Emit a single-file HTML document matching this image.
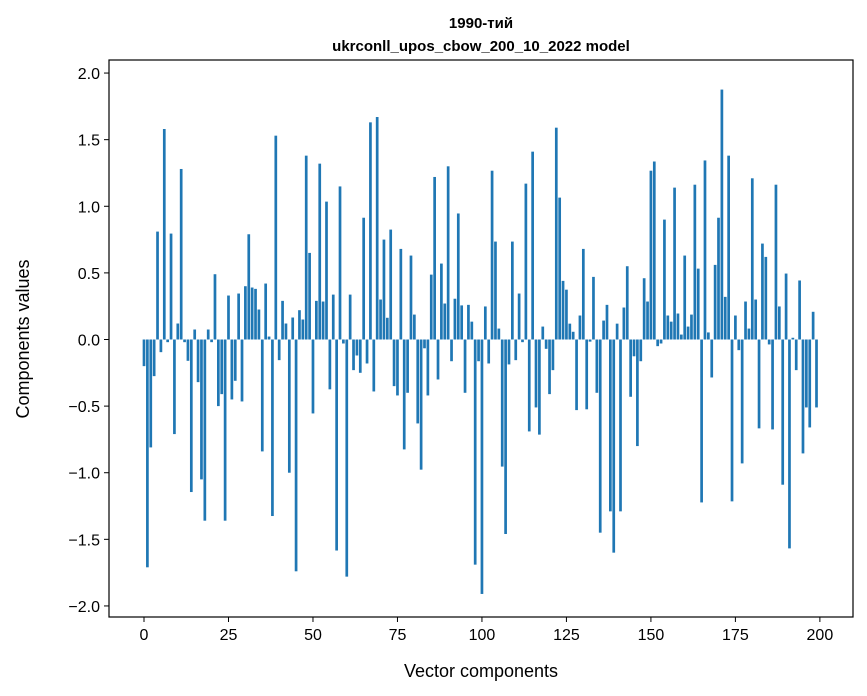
<!DOCTYPE html>
<html><head><meta charset="utf-8"><style>
body{margin:0;background:#fff;font-family:"Liberation Sans","DejaVu Sans",sans-serif}
svg{display:block}
</style></head><body>
<svg id="chart" width="867" height="696" viewBox="0 0 867 696" xmlns="http://www.w3.org/2000/svg">
<text x="481" y="28" text-anchor="middle" font-size="15" font-weight="bold" font-family="Liberation Sans, sans-serif">1990-тий</text>
<text x="481" y="51" text-anchor="middle" font-size="15" font-weight="bold" font-family="Liberation Sans, sans-serif">ukrconll_upos_cbow_200_10_2022 model</text>
<g id="bars"></g>
<g id="xticks"></g>
<g id="yticks"></g>
<rect x="109" y="60" width="744" height="557" fill="none" stroke="#000" stroke-width="1.2"/>
<text x="481" y="677" text-anchor="middle" font-size="18" font-family="Liberation Sans, sans-serif">Vector components</text>
<text transform="translate(29,339) rotate(-90)" text-anchor="middle" font-size="18" font-family="Liberation Sans, sans-serif">Components values</text>
</svg>
<script>
const values = [
-0.20,-1.71,-0.81,-0.275,0.81,-0.095,1.58,-0.02,0.795,-0.71,
0.12,1.28,-0.02,-0.16,-1.145,0.075,-0.32,-1.05,-1.36,0.075,
-0.02,0.49,-0.50,-0.41,-1.36,0.33,-0.45,-0.31,0.345,-0.465,
0.40,0.79,0.39,0.38,0.225,-0.84,0.42,0.022,-1.325,1.53,
-0.155,0.29,0.12,-1.0,0.165,-1.74,0.22,0.15,1.38,0.65,
-0.555,0.29,1.32,0.285,1.035,-0.374,0.337,-1.584,1.149,-0.03,
-1.78,0.337,-0.23,-0.12,-0.25,0.914,-0.18,1.63,-0.39,1.67,
0.30,0.75,0.163,0.825,-0.35,-0.42,0.68,-0.825,-0.40,0.63,
0.187,-0.63,-0.977,-0.066,-0.42,0.487,1.22,-0.30,0.57,0.27,
1.30,-0.163,0.306,0.946,0.256,-0.40,0.26,0.134,-1.69,-0.163,
-1.91,0.248,-0.18,1.267,0.735,0.082,-0.954,-1.46,-0.187,0.735,
-0.155,0.345,-0.02,1.17,-0.69,1.41,-0.51,-0.714,0.097,-0.07,
-0.41,-0.23,1.59,1.065,0.44,0.374,0.119,0.058,-0.53,0.18,
0.68,-0.524,-0.016,0.47,-0.40,-1.45,0.142,0.26,-1.29,-1.60,
0.119,-1.29,0.24,0.55,-0.43,-0.126,-0.80,-0.163,0.46,0.285,
1.267,1.336,-0.05,-0.03,0.90,0.18,0.134,1.14,0.195,0.037,
0.63,0.097,0.187,1.162,0.532,-1.223,1.344,0.053,-0.285,0.56,
0.914,1.876,0.32,1.38,-1.215,0.18,-0.08,-0.93,0.285,0.082,
1.21,0.30,-0.667,0.72,0.62,-0.037,-0.675,1.162,0.248,-1.09,
0.495,-1.568,0.013,-0.23,0.443,-0.855,-0.51,-0.66,0.208,-0.51
];
const xTicks = [0,25,50,75,100,125,150,175,200];
const yTicks = [-2.0,-1.5,-1.0,-0.5,0.0,0.5,1.0,1.5,2.0];

const NS = "http://www.w3.org/2000/svg";
const L=109,R=853,T=60,B=617;
const xMin=-10.36,xMax=209.8,yMin=-2.083,yMax=2.098;
function xs(v){return L+(v-xMin)/(xMax-xMin)*(R-L);}
function ys(v){return T+(yMax-v)/(yMax-yMin)*(B-T);}

const gb=document.getElementById('bars');
values.forEach((v,i)=>{
  const r=document.createElementNS(NS,'rect');
  const x0=xs(i-0.4),x1=xs(i+0.4);
  const y0=ys(Math.max(v,0)),y1=ys(Math.min(v,0));
  r.setAttribute('x',x0);r.setAttribute('width',x1-x0);
  r.setAttribute('y',y0);r.setAttribute('height',Math.max(y1-y0,0.5));
  r.setAttribute('fill','#1f77b4');
  
  
  gb.appendChild(r);
});
const gx=document.getElementById('xticks');
xTicks.forEach(t=>{
  const x=xs(t);
  const l=document.createElementNS(NS,'line');
  l.setAttribute('x1',x);l.setAttribute('x2',x);l.setAttribute('y1',B);l.setAttribute('y2',B+5);
  l.setAttribute('stroke','#000');
  
  
  gx.appendChild(l);
  const tx=document.createElementNS(NS,'text');
  tx.setAttribute('x',x);tx.setAttribute('y',B+23);tx.setAttribute('text-anchor','middle');
  tx.setAttribute('font-size','16');
  tx.textContent=t;
  
  
  gx.appendChild(tx);
});
const gy=document.getElementById('yticks');
yTicks.forEach(t=>{
  const y=ys(t);
  const l=document.createElementNS(NS,'line');
  l.setAttribute('x1',L-5);l.setAttribute('x2',L);l.setAttribute('y1',y);l.setAttribute('y2',y);
  l.setAttribute('stroke','#000');
  
  
  gy.appendChild(l);
  const tx=document.createElementNS(NS,'text');
  tx.setAttribute('x',L-9);tx.setAttribute('y',y+6);tx.setAttribute('text-anchor','end');
  tx.setAttribute('font-size','16');
  tx.textContent=(t<0?'\u2212':'')+Math.abs(t).toFixed(1);
  
  
  gy.appendChild(tx);
});
</script>
</body></html>
